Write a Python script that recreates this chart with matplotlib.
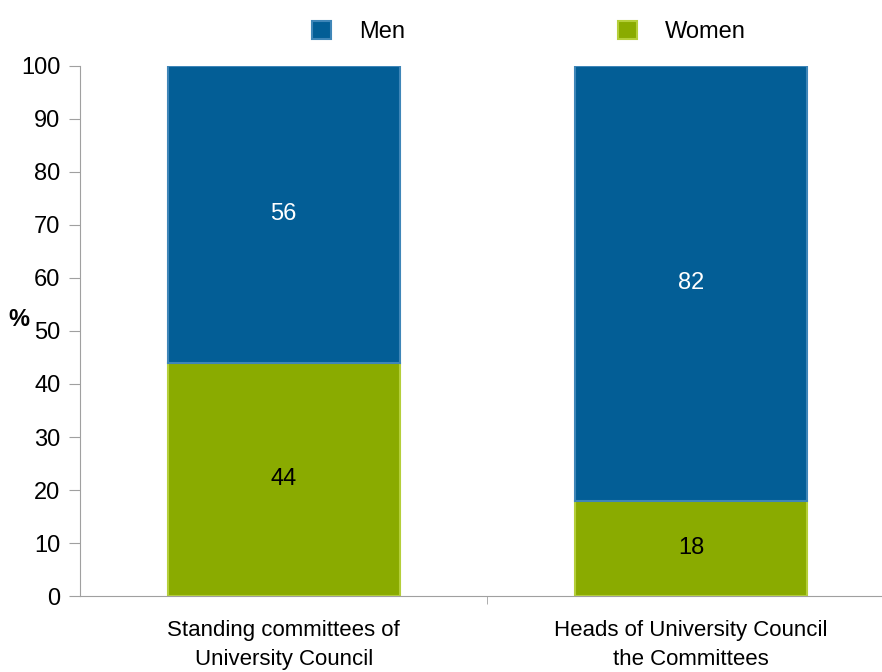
import matplotlib.pyplot as plt
from matplotlib import font_manager

names = {f.name for f in font_manager.fontManager.ttflist}
font = 'Liberation Sans Narrow' if 'Liberation Sans Narrow' in names else 'Liberation Sans'
plt.rcParams['font.family'] = [font, 'DejaVu Sans']

categories = ['Standing committees of\nUniversity Council', 'Heads of University Council\nthe Committees']
women = [44, 18]
men = [56, 82]
blue = '#035e96'
green = '#8aab00'

fig = plt.figure(figsize=(8.82, 6.72), dpi=100)
ax = fig.add_axes([0.0907, 0.113, 0.924, 0.789])

x = range(len(categories))
b1 = ax.bar(x, women, width=0.57, color=green, edgecolor='#b5cf3a', linewidth=1.5, label='Women')
b2 = ax.bar(x, men, width=0.57, bottom=women, color=blue, edgecolor='#3f86b8', linewidth=1.5, label='Men')

for i in x:
    ax.text(i, women[i] / 2, str(women[i]), ha='center', va='center', fontsize=17, color='black')
    ax.text(i, women[i] + men[i] / 2, str(men[i]), ha='center', va='center', fontsize=17, color='white')

ax.set_xlim(-0.5, 1.5)
ax.set_ylim(0, 100)
ax.set_yticks(range(0, 101, 10))
ax.set_xticks([0.5], minor=True)
ax.set_xticks(list(x))
ax.set_xticklabels(categories, fontsize=16, linespacing=1.5)
ax.tick_params(axis='x', which='major', length=0, pad=17)
ax.tick_params(axis='x', which='minor', length=6, direction='out', color='#a0a0a0')
ax.tick_params(axis='y', labelsize=17, length=8, color='#a0a0a0', pad=6)
for s in ['top', 'right']:
    ax.spines[s].set_visible(False)
for s in ['left', 'bottom']:
    ax.spines[s].set_color('#a0a0a0')
ax.set_ylabel('%', rotation=0, fontsize=17, fontweight='bold', labelpad=12)
ax.yaxis.set_label_coords(-0.075, 0.5)

fig.legend(handles=[b2, b1], labels=['Men', 'Women'], ncol=2, loc='upper center',
           bbox_to_anchor=(0.6, 1.0), frameon=False, fontsize=17,
           handlelength=0.8, handleheight=0.8, columnspacing=9, handletextpad=1.2)

fig.savefig('out.png', dpi=100)
